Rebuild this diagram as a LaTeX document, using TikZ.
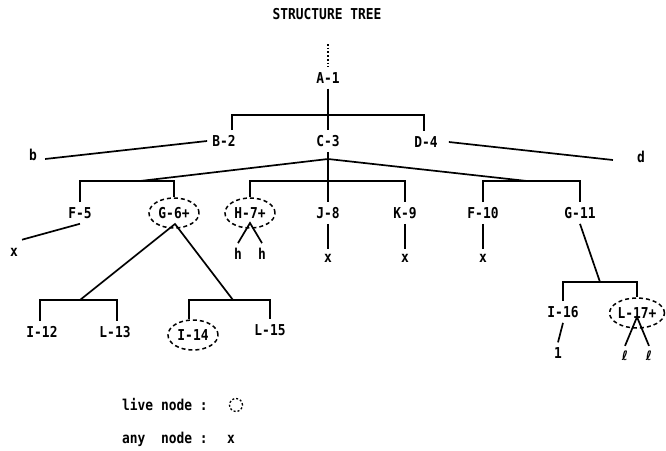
\documentclass[tikz,border=0pt]{standalone}
\usepackage{fontspec}
\setmonofont[FakeStretch=0.86]{DejaVu Sans Mono}
\newfontfamily\dvs{DejaVu Sans}
\usetikzlibrary{shapes.geometric}
\begin{document}
\begin{tikzpicture}[x=1pt,y=-1pt,
  lbl/.style={font=\ttfamily\bfseries\fontsize{15}{15}\selectfont, inner sep=5pt},
  live/.style={lbl, ellipse, draw, dash pattern=on 4pt off 3pt, line width=1.5pt,
    minimum width=50pt, minimum height=30pt, inner sep=0pt},
  ln/.style={line width=1.7pt},
]
\useasboundingbox (0,0) rectangle (666,450);
% title
\node[lbl] (title) at (327,14) {STRUCTURE TREE};
% level 0/1
\coordinate (top) at (328,44);
\node[lbl] (a1) at (328,78) {A-1};
\node[lbl] (b2) at (224,141) {B-2};
\node[lbl] (c3) at (328,141) {C-3};
\node[lbl] (d4) at (426,142) {D-4};
\node[lbl] (b) at (33,155) {b};
\node[lbl] (d) at (641,157) {d};
% level 2
\node[lbl] (f5) at (80,213) {F-5};
\node[live] (g6) at (174,213) {G-6+};
\node[live] (h7) at (250,213) {H-7+};
\node[lbl] (j8) at (328,213) {J-8};
\node[lbl] (k9) at (405,213) {K-9};
\node[lbl] (f10) at (483,213) {F-10};
\node[lbl] (g11) at (580,213) {G-11};
% leaves of level 2
\node[lbl] (x5) at (14,252) {x};
\node[lbl] (h1) at (238,254) {h};
\node[lbl] (h2) at (262,254) {h};
\node[lbl] (x8) at (328,258) {x};
\node[lbl] (x9) at (405,258) {x};
\node[lbl] (x10) at (483,258) {x};
% level 3
\node[lbl] (i12) at (42,332) {I-12};
\node[lbl] (l13) at (115,332) {L-13};
\node[live] (i14) at (193,335) {I-14};
\node[lbl] (l15) at (270,330) {L-15};
\node[lbl] (i16) at (563,312) {I-16};
\node[live] (l17) at (637,313) {L-17+};
\node[lbl] (one) at (558,353) {1};
\node[lbl, font=\dvs\bfseries\fontsize{13}{13}\selectfont] (ell1) at (625,356) {ℓ};
\node[lbl, font=\dvs\bfseries\fontsize{13}{13}\selectfont] (ell2) at (649,356) {ℓ};
% legend
\node[lbl, anchor=west, inner sep=0pt] (leg1) at (122,405) {live node :};
\node[draw, circle, dash pattern=on 2pt off 2pt, line width=1.3pt, minimum size=13pt, inner sep=0pt] (lc) at (236,405) {};
\node[lbl, anchor=west, inner sep=0pt] (leg2) at (122,439) {any\ \ node :};
\node[lbl] (lx) at (231,439) {x};

% junction coordinates
\coordinate (ja) at (328,115);
\coordinate (jc) at (328,159);
\coordinate (jl) at (140,181);
\coordinate (jm) at (328,181);
\coordinate (jr) at (527,181);
\coordinate (ga) at (175,224);
\coordinate (jgl) at (80,300);
\coordinate (jgr) at (233,300);
\coordinate (ha) at (250,223);
\coordinate (j16) at (600,282);
\coordinate (la) at (637,317);

% connectors
\draw[ln, dotted] (top) -- (a1.north);
\draw[ln] (a1.south) -- (c3.north);
\draw[ln] ([xshift=8]b2.north) |- (ja) -| ([xshift=-2]d4.north);
\draw[ln] (b2.west) -- ([shift={(3,4)}]b.east);
\draw[ln] ([xshift=6]d4.east) -- ([shift={(-19,3)}]d.west);
\draw[ln] (c3.south) -- (j8.north);
\draw[ln] (jc) -- (jl);
\draw[ln] (jc) -- (jr);
\draw[ln] (f5.north) |- (jl) -| (g6.north);
\draw[ln] (h7.north) |- (jm) -| (k9.north);
\draw[ln] (f10.north) |- (jr) -| (g11.north);
\draw[ln] (f5.south) -- ([shift={(8,-3)}]x5.north);
\draw[ln] (jgl) -- (ga) -- (jgr);
\draw[ln] (h1.north) -- (ha) -- (h2.north);
\draw[ln] (j8.south) -- (x8.north);
\draw[ln] (k9.south) -- (x9.north);
\draw[ln] (f10.south) -- (x10.north);
\draw[ln] ([xshift=-2]i12.north) |- (jgl) -| ([xshift=2]l13.north);
\draw[ln] ([xshift=-4]i14.north) |- (jgr) -| (l15.north);
\draw[ln] (g11.south) -- (j16);
\draw[ln] (i16.north) |- (j16) -| (l17.north);
\draw[ln] (i16.south) -- (one.north);
\draw[ln] (ell1.north) -- (la) -- (ell2.north);
\end{tikzpicture}
\end{document}
